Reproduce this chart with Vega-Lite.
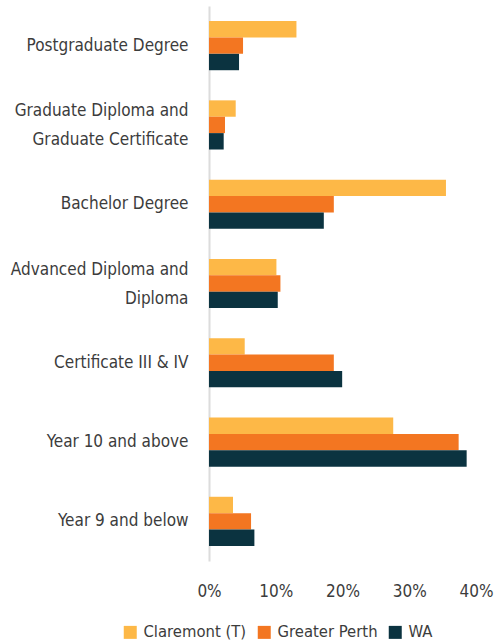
{
  "$schema": "https://vega.github.io/schema/vega-lite/v6.json",
  "width": 267,
  "height": 555,
  "autosize": {"type": "none"},
  "padding": {"left": 209, "top": 6, "right": 23, "bottom": 83},
  "background": "white",
  "config": {
    "view": {"stroke": null},
    "font": "DejaVu Sans Condensed"
  },
  "data": {
    "values": [
      {"level": "Postgraduate Degree", "area": "Claremont (T)", "value": 0.131},
      {"level": "Postgraduate Degree", "area": "Greater Perth", "value": 0.051},
      {"level": "Postgraduate Degree", "area": "WA", "value": 0.045},
      {"level": "Graduate Diploma and|Graduate Certificate", "area": "Claremont (T)", "value": 0.040},
      {"level": "Graduate Diploma and|Graduate Certificate", "area": "Greater Perth", "value": 0.024},
      {"level": "Graduate Diploma and|Graduate Certificate", "area": "WA", "value": 0.022},
      {"level": "Bachelor Degree", "area": "Claremont (T)", "value": 0.355},
      {"level": "Bachelor Degree", "area": "Greater Perth", "value": 0.187},
      {"level": "Bachelor Degree", "area": "WA", "value": 0.172},
      {"level": "Advanced Diploma and|Diploma", "area": "Claremont (T)", "value": 0.101},
      {"level": "Advanced Diploma and|Diploma", "area": "Greater Perth", "value": 0.107},
      {"level": "Advanced Diploma and|Diploma", "area": "WA", "value": 0.103},
      {"level": "Certificate III & IV", "area": "Claremont (T)", "value": 0.0535},
      {"level": "Certificate III & IV", "area": "Greater Perth", "value": 0.187},
      {"level": "Certificate III & IV", "area": "WA", "value": 0.1995},
      {"level": "Year 10 and above", "area": "Claremont (T)", "value": 0.276},
      {"level": "Year 10 and above", "area": "Greater Perth", "value": 0.374},
      {"level": "Year 10 and above", "area": "WA", "value": 0.386},
      {"level": "Year 9 and below", "area": "Claremont (T)", "value": 0.036},
      {"level": "Year 9 and below", "area": "Greater Perth", "value": 0.063},
      {"level": "Year 9 and below", "area": "WA", "value": 0.068}
    ]
  },
  "mark": {"type": "bar"},
  "encoding": {
    "y": {
      "field": "level",
      "type": "nominal",
      "sort": null,
      "scale": {"paddingInner": 0.38, "paddingOuter": 0.19},
      "axis": {
        "title": null,
        "labelExpr": "split(datum.label, '|')",
        "labelFontSize": 17,
        "labelColor": "#3c3c3c",
        "labelLineHeight": 29,
        "labelOffset": {"condition": {"test": "indexof(datum.value, '|') >= 0", "value": -14}, "value": 0},
        "labelPadding": 21,
        "labelLimit": 300,
        "ticks": false,
        "domainColor": "#dcdcdc",
        "domainWidth": 2,
        "grid": false
      }
    },
    "yOffset": {
      "field": "area",
      "type": "nominal",
      "sort": ["Claremont (T)", "Greater Perth", "WA"]
    },
    "x": {
      "field": "value",
      "type": "quantitative",
      "scale": {"domain": [0, 0.4], "nice": false},
      "axis": {
        "title": null,
        "format": ".0%",
        "values": [0, 0.1, 0.2, 0.3, 0.4],
        "domain": false,
        "ticks": false,
        "grid": false,
        "labelFontSize": 17,
        "labelColor": "#3c3c3c",
        "labelPadding": 22,
        "labelFlush": false
      }
    },
    "color": {
      "field": "area",
      "type": "nominal",
      "sort": ["Claremont (T)", "Greater Perth", "WA"],
      "scale": {
        "domain": ["Claremont (T)", "Greater Perth", "WA"],
        "range": ["#FDB847", "#F37621", "#0B3340"]
      },
      "legend": {
        "title": null,
        "orient": "none",
        "direction": "horizontal",
        "legendX": -87,
        "legendY": 618,
        "symbolType": "square",
        "symbolSize": 169,
        "symbolStrokeWidth": 0,
        "labelFontSize": 16.5,
        "labelColor": "#3c3c3c",
        "labelOffset": 5,
        "columnPadding": 9
      }
    }
  }
}
